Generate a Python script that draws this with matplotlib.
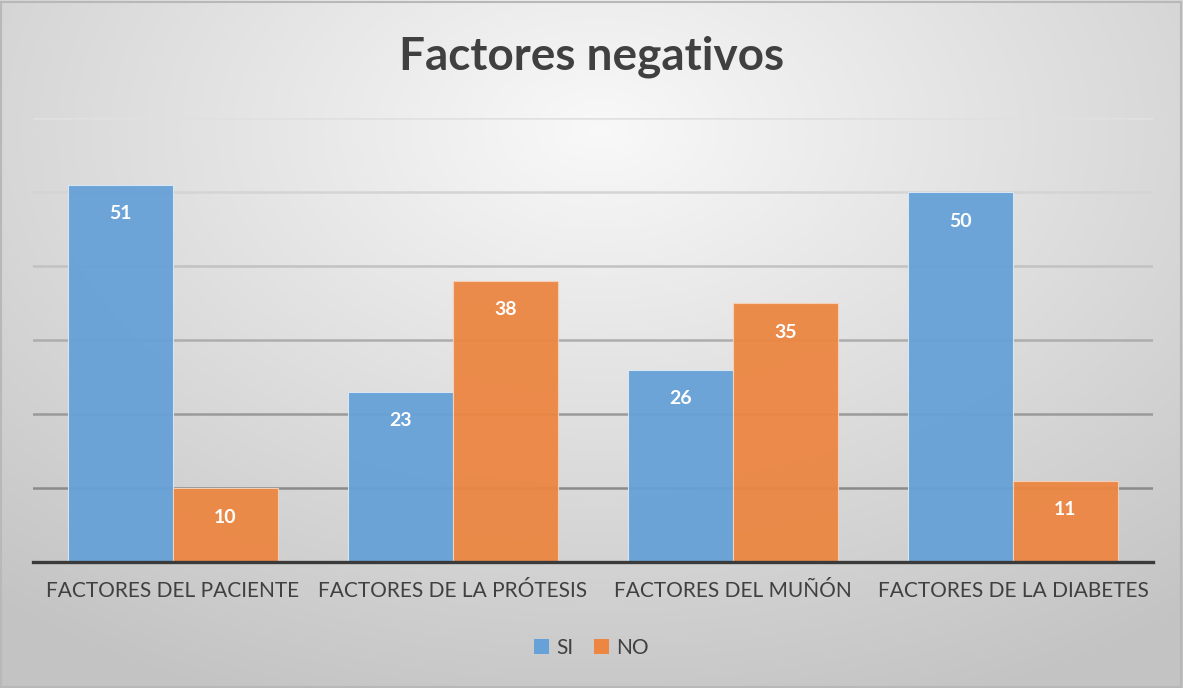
import numpy as np
import matplotlib.pyplot as plt
from matplotlib.patches import Patch, Rectangle

# data
categories = ["FACTORES DEL PACIENTE", "FACTORES DE LA PRÓTESIS",
              "FACTORES DEL MUÑÓN", "FACTORES DE LA DIABETES"]
si_values = [51, 23, 26, 50]
no_values = [10, 38, 35, 11]
series_names = ["SI", "NO"]

W, H = 1183, 688
fig = plt.figure(figsize=(W / 100, H / 100), dpi=100)

# radial gradient background
bg = fig.add_axes([0, 0, 1, 1], zorder=0)
yy, xx = np.mgrid[0:H, 0:W]
r = np.sqrt(((xx - 600) / 950.0) ** 2 + ((yy - 130) / 620.0) ** 2)
r = np.clip(r, 0, 1)
shade = 0.975 - 0.21 * r
bg.imshow(np.dstack([shade] * 3), aspect="auto", extent=[0, 1, 0, 1])
bg.add_patch(Rectangle((0.001, 0.002), 0.997, 0.995, fill=False,
                       edgecolor="#b8b8b8", linewidth=1.5))
bg.set_xlim(0, 1)
bg.set_ylim(0, 1)
bg.axis("off")

ax = fig.add_axes([33 / W, 126 / H, 1120 / W, 444 / H], zorder=1)
ax.patch.set_alpha(0)

x = np.arange(len(categories))
bw = 0.375
blue = "#66a1d7"
orange = "#ec8642"

# gridlines, lighter towards the top
grid_cols = {10: "#8a8a8a", 20: "#9a9a9a", 30: "#adadad", 40: "#c2c2c2",
             50: "#d4d4d4", 60: "#e0e0e0"}
for lvl, c in grid_cols.items():
    ax.axhline(lvl, color=c, linewidth=1.8, zorder=1)

b1 = ax.bar(x - bw / 2, si_values, bw, color=blue, alpha=0.95,
            edgecolor="#dbe8f5", linewidth=0.8, zorder=2)
b2 = ax.bar(x + bw / 2, no_values, bw, color=orange, alpha=0.95,
            edgecolor="#f6d2b8", linewidth=0.8, zorder=2)

for bars, vals in [(b1, si_values), (b2, no_values)]:
    for rect, v in zip(bars, vals):
        ax.annotate(str(v), (rect.get_x() + rect.get_width() / 2, v),
                    xytext=(0, -21), textcoords="offset points",
                    ha="center", va="center", color="white",
                    fontsize=14, fontweight="bold", family="Lato", zorder=3)

ax.set_xlim(-0.5, len(categories) - 0.5)
ax.set_ylim(0, 60)
ax.set_yticks([])
ax.set_xticks(x)
ax.set_xticklabels(categories, fontsize=15, family="Lato", color="#404040")
ax.tick_params(axis="x", length=0, pad=14)
for s in ["top", "right", "left"]:
    ax.spines[s].set_visible(False)
ax.spines["bottom"].set_color("#3a3a3a")
ax.spines["bottom"].set_linewidth(2.4)
ax.spines["bottom"].set_zorder(4)

fig.text(0.5, 1 - 57 / H, "Factores negativos", ha="center", va="center",
         fontsize=33, fontweight="bold", family="Lato", color="#404040")

handles = [Patch(facecolor=blue, label=series_names[0]),
           Patch(facecolor=orange, label=series_names[1])]
fig.legend(handles=handles, loc="center", bbox_to_anchor=(0.5, 1 - 648 / H),
           ncol=2, frameon=False, handlelength=0.7, handleheight=0.7,
           handletextpad=0.35, columnspacing=1.0,
           prop={"family": "Lato", "size": 15}, labelcolor="#404040")

fig.savefig("out.png", dpi=100)
